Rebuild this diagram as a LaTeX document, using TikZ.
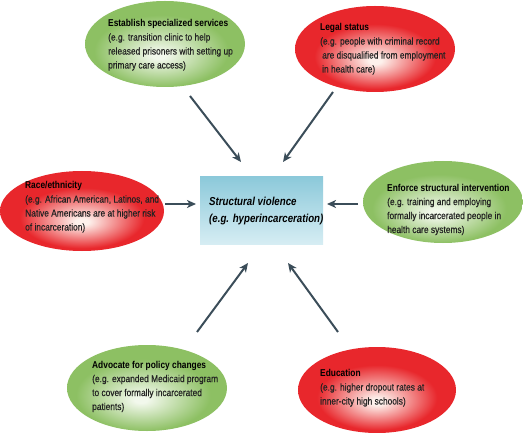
\documentclass[tikz,border=0pt]{standalone}
\usepackage{fontspec}
\setmainfont{Liberation Sans}[FakeStretch=0.84]
\newfontfamily\bodyfont{Liberation Sans}[FakeStretch=0.84, FakeBold=0.35]
\usetikzlibrary{shapes.geometric,arrows.meta}
\definecolor{gout}{HTML}{8DC063}
\definecolor{gin}{HTML}{F2F8EC}
\definecolor{rout}{HTML}{E8272C}
\definecolor{rin}{HTML}{FDF1EC}
\definecolor{arr}{HTML}{3B4D59}
\definecolor{btop}{HTML}{8CC9DA}
\definecolor{bbot}{HTML}{D6EDF3}
\definecolor{bodytxt}{HTML}{222222}
\pgfdeclareradialshading{gshade}{\pgfpoint{-2bp}{-7bp}}{color(0bp)=(gin); color(2bp)=(gin); color(21bp)=(gout); color(50bp)=(gout)}
\pgfdeclareradialshading{rshade}{\pgfpoint{0bp}{-7bp}}{color(0bp)=(rin); color(2bp)=(rin); color(19bp)=(rout); color(50bp)=(rout)}
\newcommand{\hd}[1]{{\normalfont\bfseries\color{black}#1}}
\tikzset{
  bubble/.style={ellipse, draw=none, inner sep=0pt},
  gball/.style={bubble, shade, shading=gshade},
  rball/.style={bubble, shade, shading=rshade},
  txt/.style={anchor=west, inner sep=0pt, align=left, font=\bodyfont\fontsize{10}{14}\selectfont, text=bodytxt},
  ctxt/.style={anchor=west, inner sep=0pt, align=left, font=\fontsize{11.6}{17.5}\selectfont\bfseries\itshape, text=black},
  conn/.style={draw=arr, line width=2bp, -{Stealth[length=9bp,width=8bp,inset=2.5bp]}}
}
\begin{document}
\begin{tikzpicture}[x=1bp,y=-1bp]
\useasboundingbox (0,0) rectangle (523,433);
% ellipses
\node[gball, minimum width=160bp, minimum height=86bp] (tl) at (165,44) {};
\node[rball, minimum width=160bp, minimum height=86bp] (tr) at (375,49) {};
\node[rball, minimum width=164bp, minimum height=80bp] (ml) at (82,211) {};
\node[gball, minimum width=160bp, minimum height=82bp] (mr) at (443,202) {};
\node[gball, minimum width=160bp, minimum height=86bp] (bl) at (147,388) {};
\node[rball, minimum width=158bp, minimum height=86bp] (br) at (377,390) {};
% center box
\node[rectangle, minimum width=123bp, minimum height=67bp, inner sep=0pt, top color=btop, bottom color=bbot] (box) at (261.5,210.5) {};
% texts
\node[txt] (ttl) at (108,45) {\hd{Establish specialized services}\\(e.g. transition clinic to help\\released prisoners with setting up\\primary care access)};
\node[txt] (ttr) at (320,49) {\hd{Legal status}\\(e.g. people with criminal record\\\hspace*{2bp}are disqualified from employment\\\hspace*{2bp}in health care)};
\node[txt] (tml) at (25,207) {\hd{Race/ethnicity}\\(e.g. African American, Latinos, and\\Native Americans are at higher risk\\of incarceration)};
\node[txt] (tmr) at (387,209.5) {\hd{Enforce structural intervention}\\(e.g. training and employing\\formally incarcerated people in\\health care systems)};
\node[txt] (tbl) at (92,386.5) {\hd{Advocate for policy changes}\\(e.g. expanded Medicaid program\\to cover formally incarcerated\\patients)};
\node[txt] (tbr) at (320,388) {\hd{Education}\\(e.g. higher dropout rates at\\inner-city high schools)};
\node[ctxt] (tbox) at (209,211) {Structural violence\\(e.g. hyperincarceration)};
% arrows
\coordinate (s1) at (190,96);  \coordinate (e1) at (241,162);
\coordinate (s2) at (333,92);  \coordinate (e2) at (283,162);
\coordinate (s3) at (165,204); \coordinate (e3) at (196,204);
\coordinate (s4) at (358,204); \coordinate (e4) at (327,204);
\coordinate (s5) at (197,332); \coordinate (e5) at (248,263);
\coordinate (s6) at (338,332); \coordinate (e6) at (288,263);
\draw[conn] (s1) -- (e1);
\draw[conn] (s2) -- (e2);
\draw[conn] (s3) -- (e3);
\draw[conn] (s4) -- (e4);
\draw[conn] (s5) -- (e5);
\draw[conn] (s6) -- (e6);
\end{tikzpicture}
\end{document}
